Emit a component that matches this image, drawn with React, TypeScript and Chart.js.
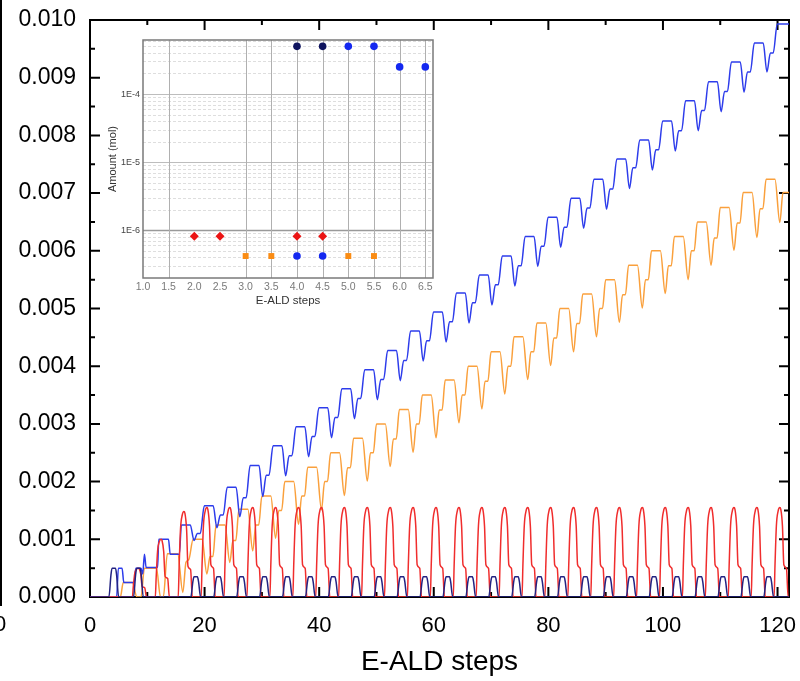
import React, { useEffect, useRef } from "react";
import { Chart, registerables } from "chart.js";

Chart.register(...registerables);

const FONT = "'Liberation Sans', Arial, Helvetica, sans-serif";

// ---------------- main chart axes ----------------
const xMin = 0;
const xMax = 122;
const xTickValues = [0, 20, 40, 60, 80, 100, 120];
const xMinorTickValues = [10, 30, 50, 70, 90, 110];
const yMin = 0;
const yMax = 0.01;
const yTickValues = [0, 0.001, 0.002, 0.003, 0.004, 0.005, 0.006, 0.007, 0.008, 0.009, 0.01];
const yMinorTickValues = [0.0005, 0.0015, 0.0025, 0.0035, 0.0045, 0.0055, 0.0065, 0.0075, 0.0085, 0.0095];

// ---------------- main chart data ----------------
// start step of each 4-step E-ALD cycle
const cycleStart = [16, 20, 24, 28, 32, 36, 40, 44, 48, 52, 56, 60, 64, 68, 72, 76, 80, 84, 88, 92, 96, 100, 104, 108, 112, 116, 120];

// blue series: first steps, then plateau / dip / kink level of each cycle
const blueEarlyX = [0, 4.65, 4.95, 5.6, 5.9, 7.7, 8.0, 8.9, 9.2, 9.5, 9.8, 11.8, 12.0, 13.7, 14.0, 15.6];
const blueEarlyY = [0, 0, 0.0005, 0.0005, 0.00025, 0.00025, 0.0005, 0.0005, 0.0004, 0.00074, 0.00051, 0.00051, 0.001, 0.001, 0.00074, 0.00074];
const blueTop = [0.00125, 0.00158, 0.0019, 0.00228, 0.00262, 0.00295, 0.00328, 0.00361, 0.00394, 0.00427, 0.00461, 0.00494, 0.00527, 0.00558, 0.00591, 0.00625, 0.00658, 0.00691, 0.00724, 0.00759, 0.00792, 0.00825, 0.0086, 0.00893, 0.00927, 0.0096, 0.00993];
const blueDip = [0.00098, 0.0012, 0.00139, 0.00174, 0.0021, 0.00243, 0.00276, 0.00309, 0.00342, 0.00375, 0.00409, 0.00442, 0.00475, 0.00506, 0.00539, 0.00573, 0.00606, 0.00639, 0.00672, 0.00708, 0.0074, 0.00773, 0.00808, 0.00841, 0.00875, 0.0091];
const blueKink = [0.0011, 0.00142, 0.00172, 0.00211, 0.00245, 0.00278, 0.00311, 0.00344, 0.00377, 0.0041, 0.00444, 0.00477, 0.0051, 0.00541, 0.00574, 0.00608, 0.00641, 0.00674, 0.00707, 0.00744, 0.00775, 0.00808, 0.00843, 0.00876, 0.0091, 0.00943];
// step offsets inside a cycle: plateau start, plateau end, dip, kink start, kink end
const bluePhase = [-0.05, 1.5, 2.15, 2.75, 3.25];

// orange series
const orangeEarlyX = [0, 5.3, 5.8, 7.4, 8.2, 8.9, 9.5, 11.6, 12.3, 12.8, 13.5, 15.3, 16.2, 16.75, 17.25];
const orangeEarlyY = [0, 0, 0.00025, 0.00025, 0, 0, 0.0005, 0.0005, 0, 0, 0.00075, 0.00075, 0.00008, 0.0006, 0.00065];
const orangeTop = [0.001, 0.00125, 0.00152, 0.00175, 0.002, 0.00225, 0.0025, 0.00275, 0.003, 0.00325, 0.0035, 0.00376, 0.004, 0.00425, 0.00451, 0.00475, 0.005, 0.00525, 0.0055, 0.00575, 0.006, 0.00625, 0.0065, 0.00675, 0.00701, 0.00724];
const orangeDip = [0.0004, 0.0006, 0.0008, 0.00102, 0.00126, 0.00151, 0.00176, 0.00201, 0.00226, 0.00251, 0.00276, 0.00302, 0.00326, 0.00352, 0.00377, 0.00401, 0.00425, 0.00451, 0.00476, 0.00501, 0.00526, 0.0055, 0.00575, 0.00601, 0.00623, 0.00649];
const orangeKink = [0.0007, 0.00098, 0.00125, 0.0015, 0.00175, 0.002, 0.00224, 0.0025, 0.00274, 0.003, 0.00324, 0.0035, 0.00374, 0.004, 0.00425, 0.00449, 0.00474, 0.005, 0.00524, 0.0055, 0.00574, 0.006, 0.00622, 0.00648, 0.00673, 0.00701];
const orangePhase = [2.0, 3.55, 4.4, 4.95, 5.45];

// red series: pulse peaks
const redPeakStep = [8.4, 12.4, 16.4, 20.4, 24.4, 28.4, 32.4, 36.4, 40.4, 44.4, 48.4, 52.4, 56.4, 60.4, 64.4, 68.4, 72.4, 76.4, 80.4, 84.4, 88.4, 92.4, 96.4, 100.4, 104.4, 108.4, 112.4, 116.4, 120.4];
const redPeak = [0.0005, 0.001, 0.00148, 0.00155, 0.00155, 0.00155, 0.00155, 0.00155, 0.00155, 0.00155, 0.00155, 0.00155, 0.00155, 0.00155, 0.00155, 0.00155, 0.00155, 0.00155, 0.00155, 0.00155, 0.00155, 0.00155, 0.00155, 0.00155, 0.00155, 0.00155, 0.00155, 0.00155, 0.00155];
const redPulseDx = [-1.0, -0.85, -0.6, -0.3, 0, 0.17, 0.46, 0.7, 1.16, 1.45];
const redPulseFrac = [0, 0.34, 0.8, 0.96, 1, 0.98, 0.79, 0.36, 0.32, 0];

// navy series: bump centres and heights
const navyCenter = [4.15, 8.45, 18.45, 22.45, 26.45, 30.45, 34.45, 38.45, 42.45, 46.45, 50.45, 54.45, 58.45, 62.45, 66.45, 70.45, 74.45, 78.45, 82.45, 86.45, 90.45, 94.45, 98.45, 102.45, 106.45, 110.45, 114.45, 118.45];
const navyHeight = [0.0005, 0.0005, 0.00035, 0.00035, 0.00035, 0.00035, 0.00035, 0.00035, 0.00035, 0.00035, 0.00035, 0.00035, 0.00035, 0.00035, 0.00035, 0.00035, 0.00035, 0.00035, 0.00035, 0.00035, 0.00035, 0.00035, 0.00035, 0.00035, 0.00035, 0.00035, 0.00035, 0.00035];
const navyBumpDx = [-0.85, -0.5, -0.3, 0.3, 0.5, 0.85];
const navyBumpFrac = [0, 0.75, 1, 1, 0.75, 0];

// ---------------- inset data ----------------
const insetXTicks = [1.0, 1.5, 2.0, 2.5, 3.0, 3.5, 4.0, 4.5, 5.0, 5.5, 6.0, 6.5];
const insetVGrid = [1.5, 3.0, 3.5, 4.0, 4.5, 5.0, 5.5, 6.0, 6.5];
const insetYTicks = [1e-6, 1e-5, 1e-4];
const insetRedX = [2.0, 2.5, 4.0, 4.5];
const insetRedY = [8.2e-7, 8.2e-7, 8.2e-7, 8.2e-7];
const insetOrangeX = [3.0, 3.5, 5.0, 5.5];
const insetOrangeY = [4.2e-7, 4.2e-7, 4.2e-7, 4.2e-7];
const insetBlueX = [4.0, 4.5, 5.0, 5.5, 6.0, 6.5];
const insetBlueY = [4.2e-7, 4.2e-7, 5.0e-4, 5.0e-4, 2.5e-4, 2.5e-4];
const insetNavyX = [4.0, 4.5];
const insetNavyY = [5.0e-4, 5.0e-4];

type P = { x: number; y: number };

function buildStaircase(
  earlyX: number[], earlyY: number[], starts: number[], phase: number[],
  top: number[], dip: number[], kink: number[], xEnd: number
): P[] {
  const pts: P[] = earlyX.map((x, i) => ({ x, y: earlyY[i] }));
  for (let i = 0; i < top.length; i++) {
    const s = starts[i];
    pts.push({ x: s + phase[0], y: top[i] }, { x: s + phase[1], y: top[i] });
    if (i < dip.length) {
      pts.push({ x: s + phase[2], y: dip[i] }, { x: s + phase[3], y: kink[i] }, { x: s + phase[4], y: kink[i] });
    }
  }
  const last = pts[pts.length - 1];
  if (last.x < xEnd) pts.push({ x: xEnd, y: last.y });
  return pts.filter((p) => p.x <= xEnd);
}

function buildPulses(centers: number[], heights: number[], dx: number[], frac: number[], xEnd: number): P[] {
  const pts: P[] = [{ x: 0, y: 0 }];
  centers.forEach((c, i) => dx.forEach((d, j) => pts.push({ x: c + d, y: heights[i] * frac[j] })));
  if (pts[pts.length - 1].x < xEnd) pts.push({ x: xEnd, y: 0 });
  return pts;
}

const zeroPadding = (s: any) => {
  s.paddingLeft = 0;
  s.paddingRight = 0;
  s.paddingTop = 0;
  s.paddingBottom = 0;
};

const mainFramePlugin = {
  id: "mainFrame",
  beforeDatasetsDraw(chart: any) {
    const { ctx, chartArea: a, scales } = chart;
    const x = scales.x, y = scales.y;
    ctx.save();
    ctx.strokeStyle = "#000";
    ctx.lineWidth = 2;
    ctx.strokeRect(a.left, a.top, a.right - a.left, a.bottom - a.top);
    const tick = (vals: number[], len: number) => {
      vals.forEach((v) => {
        const px = x.getPixelForValue(v);
        ctx.beginPath();
        ctx.moveTo(px, a.bottom); ctx.lineTo(px, a.bottom - len);
        ctx.moveTo(px, a.top); ctx.lineTo(px, a.top + len);
        ctx.stroke();
      });
    };
    const ytick = (vals: number[], len: number) => {
      vals.forEach((v) => {
        const py = y.getPixelForValue(v);
        ctx.beginPath();
        ctx.moveTo(a.left, py); ctx.lineTo(a.left + len, py);
        ctx.moveTo(a.right, py); ctx.lineTo(a.right - len, py);
        ctx.stroke();
      });
    };
    tick(xTickValues, 10);
    tick(xMinorTickValues, 5);
    ytick(yTickValues, 10);
    ytick(yMinorTickValues, 5);
    // remnant of neighbouring panel at the left edge
    ctx.fillStyle = "#000";
    ctx.fillRect(0, 0, 2, 606);
    ctx.font = `22px ${FONT}`;
    ctx.textAlign = "center";
    ctx.textBaseline = "middle";
    ctx.fillText("0", 0, 625);
    ctx.restore();
  },
};

const insetGridPlugin = {
  id: "insetGrid",
  beforeDatasetsDraw(chart: any) {
    const { ctx, chartArea: a, scales } = chart;
    const x = scales.x, y = scales.y;
    ctx.save();
    ctx.lineWidth = 1;
    ctx.strokeStyle = "#dedede";
    ctx.setLineDash([3, 2]);
    [1e-7, 1e-6, 1e-5, 1e-4].forEach((dec) => {
      [2, 3, 4, 5, 6, 7, 8, 9].forEach((m) => {
        const v = m * dec;
        const py = Math.round(y.getPixelForValue(v)) + 0.5;
        if (py > a.top + 1 && py < a.bottom - 1) {
          ctx.beginPath(); ctx.moveTo(a.left, py); ctx.lineTo(a.right, py); ctx.stroke();
        }
      });
    });
    ctx.setLineDash([]);
    insetYTicks.forEach((v) => {
      const py = Math.round(y.getPixelForValue(v)) + 0.5;
      ctx.strokeStyle = v === 1e-6 ? "#9a9a9a" : "#bdbdbd";
      ctx.lineWidth = v === 1e-6 ? 1.5 : 1;
      ctx.beginPath(); ctx.moveTo(a.left, py); ctx.lineTo(a.right, py); ctx.stroke();
    });
    ctx.strokeStyle = "#b0b0b0";
    ctx.lineWidth = 1;
    insetVGrid.forEach((v) => {
      const px = Math.round(x.getPixelForValue(v)) + 0.5;
      ctx.beginPath(); ctx.moveTo(px, a.top); ctx.lineTo(px, a.bottom); ctx.stroke();
    });
    ctx.restore();
  },
  afterDatasetsDraw(chart: any) {
    const { ctx, chartArea: a } = chart;
    ctx.save();
    ctx.strokeStyle = "#7a7a7a";
    ctx.lineWidth = 1.5;
    ctx.strokeRect(a.left, a.top, a.right - a.left, a.bottom - a.top);
    ctx.restore();
  },
};

export default function App() {
  const mainRef = useRef<HTMLCanvasElement>(null);
  const insetRef = useRef<HTMLCanvasElement>(null);

  useEffect(() => {
    const blue = buildStaircase(blueEarlyX, blueEarlyY, cycleStart, bluePhase, blueTop, blueDip, blueKink, xMax);
    const orange = buildStaircase(orangeEarlyX, orangeEarlyY, cycleStart.slice(0, orangeTop.length), orangePhase, orangeTop, orangeDip, orangeKink, xMax);
    const red = buildPulses(redPeakStep, redPeak, redPulseDx, redPulseFrac, xMax);
    const navy = buildPulses(navyCenter, navyHeight, navyBumpDx, navyBumpFrac, xMax);

    const lineDs = (data: P[], color: string) => ({
      data,
      borderColor: color,
      backgroundColor: color,
      borderWidth: 1.5,
      pointRadius: 0,
      fill: false,
      cubicInterpolationMode: "monotone" as const,
    });

    const main = new Chart(mainRef.current!, {
      type: "line",
      data: {
        datasets: [
          lineDs(navy, "rgb(35,35,130)"),
          lineDs(red, "rgb(240,45,45)"),
          lineDs(blue, "rgb(45,60,235)"),
          lineDs(orange, "rgb(250,160,60)"),
        ],
      },
      options: {
        animation: false,
        responsive: false,
        maintainAspectRatio: false,
        layout: { padding: { top: 20, right: 11, left: 0, bottom: 0 } },
        plugins: { legend: { display: false }, tooltip: { enabled: false } },
        scales: {
          x: {
            type: "linear",
            min: xMin,
            max: xMax,
            grid: { display: false, drawTicks: false },
            border: { display: false },
            ticks: {
              autoSkip: false,
              maxRotation: 0,
              padding: 16,
              color: "#000",
              font: { family: FONT, size: 22 },
              callback: (v: any) => String(v),
            },
            title: {
              display: true,
              text: "E-ALD steps",
              color: "#000",
              font: { family: FONT, size: 28 },
              padding: { top: 0, bottom: 2 },
            },
            afterBuildTicks: (s: any) => { s.ticks = xTickValues.map((v) => ({ value: v })); },
            afterFit: (s: any) => { s.height = 84; zeroPadding(s); },
          },
          y: {
            type: "linear",
            min: yMin,
            max: yMax,
            grid: { display: false, drawTicks: false },
            border: { display: false },
            ticks: {
              autoSkip: false,
              padding: 14,
              color: "#000",
              font: { family: FONT, size: 23 },
              callback: (v: any) => Number(v).toFixed(3),
            },
            afterBuildTicks: (s: any) => { s.ticks = yTickValues.map((v) => ({ value: v })); },
            afterFit: (s: any) => { s.width = 90; zeroPadding(s); },
          },
        },
      },
      plugins: [mainFramePlugin],
    } as any);

    const pts = (xs: number[], ys: number[]) => xs.map((x, i) => ({ x, y: ys[i] }));
    const scatterDs = (data: P[], color: string, style: string, r: number) => ({
      data,
      pointStyle: style,
      pointRadius: r,
      backgroundColor: color,
      borderColor: color,
      borderWidth: 0,
      showLine: false,
    });

    const inset = new Chart(insetRef.current!, {
      type: "scatter",
      data: {
        datasets: [
          scatterDs(pts(insetNavyX, insetNavyY), "rgb(15,20,95)", "circle", 3.8),
          scatterDs(pts(insetBlueX, insetBlueY), "rgb(20,40,240)", "circle", 3.8),
          scatterDs(pts(insetRedX, insetRedY), "rgb(235,20,20)", "rectRot", 4.5),
          scatterDs(pts(insetOrangeX, insetOrangeY), "rgb(250,140,20)", "rect", 4.2),
        ],
      },
      options: {
        animation: false,
        responsive: false,
        maintainAspectRatio: false,
        layout: { padding: { top: 10, right: 12, left: 0, bottom: 0 } },
        plugins: { legend: { display: false }, tooltip: { enabled: false } },
        scales: {
          x: {
            type: "linear",
            min: 1.0,
            max: 6.65,
            grid: { display: false, drawTicks: false },
            border: { display: false },
            ticks: {
              autoSkip: false,
              maxRotation: 0,
              padding: 3,
              color: "#7a7a7a",
              font: { family: FONT, size: 10.5 },
              callback: (v: any) => Number(v).toFixed(1),
            },
            title: {
              display: true,
              text: "E-ALD steps",
              color: "#333",
              font: { family: FONT, size: 11.5 },
              padding: { top: 0, bottom: 12 },
            },
            afterBuildTicks: (s: any) => { s.ticks = insetXTicks.map((v) => ({ value: v })); },
            afterFit: (s: any) => { s.height = 42; zeroPadding(s); },
          },
          y: {
            type: "logarithmic",
            min: 2e-7,
            max: 6.2e-4,
            grid: { display: false, drawTicks: false },
            border: { display: false },
            ticks: {
              autoSkip: false,
              padding: 3,
              color: "#444",
              font: { family: FONT, size: 9 },
              callback: (v: any) => "1E" + Math.round(Math.log10(Number(v))),
            },
            title: {
              display: true,
              text: "Amount (mol)",
              color: "#333",
              font: { family: FONT, size: 11 },
              padding: { top: 6, bottom: 0 },
            },
            afterBuildTicks: (s: any) => { s.ticks = insetYTicks.map((v) => ({ value: v, major: true })); },
            afterFit: (s: any) => { s.width = 43; zeroPadding(s); },
          },
        },
      },
      plugins: [insetGridPlugin],
    } as any);

    return () => {
      main.destroy();
      inset.destroy();
    };
  }, []);

  return (
    <div style={{ position: "fixed", left: 0, top: 0, width: 800, height: 681, background: "#fff", overflow: "hidden" }}>
      <canvas ref={mainRef} width={800} height={681} style={{ position: "absolute", left: 0, top: 0, width: 800, height: 681 }} />
      <canvas ref={insetRef} width={345} height={290} style={{ position: "absolute", left: 100, top: 30, width: 345, height: 290 }} />
    </div>
  );
}
